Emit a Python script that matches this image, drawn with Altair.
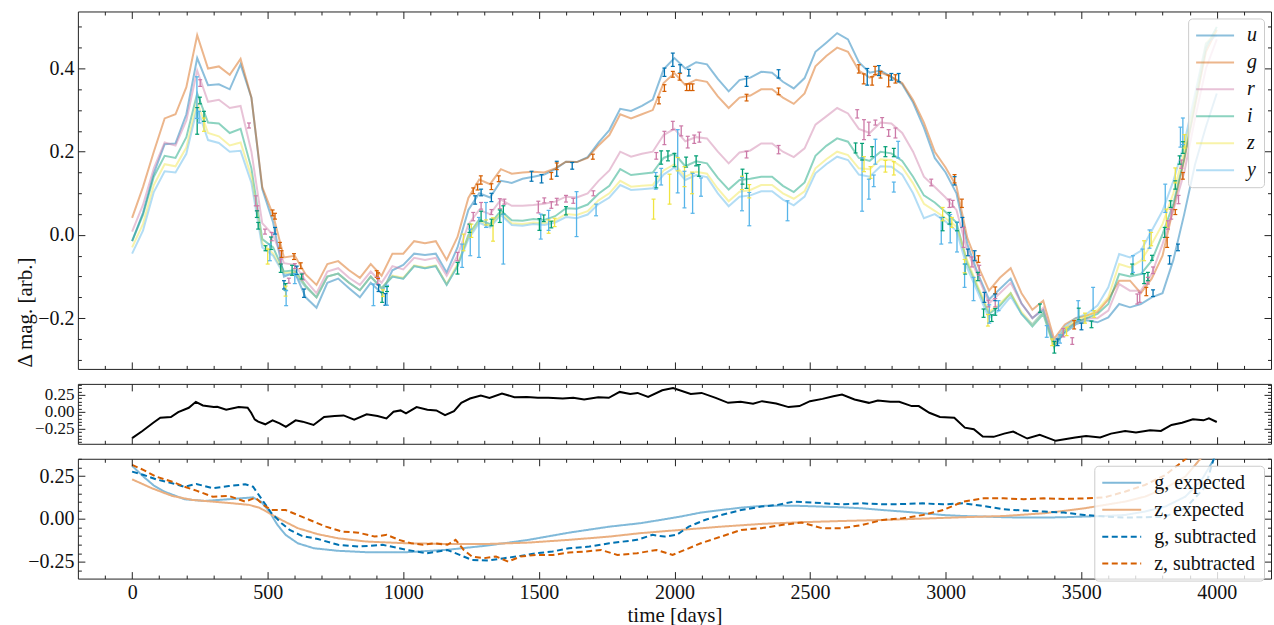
import altair as alt
import pandas as pd

FONT = "Liberation Serif"
TICK_COLOR = "#222222"

# ---------------- top panel: light curves per band (40-day grid) ----------------
BANDS = ["u", "g", "r", "i", "z", "y"]
BAND_COLORS = ["#0072B2", "#D55E00", "#CC79A7", "#009E73", "#F0E442", "#56B4E9"]

grid_t = list(range(0, 4001, 40))

band_u = [
    -0.015, 0.053, 0.148, 0.218, 0.220, 0.290, 0.425, 0.360, 0.362, 0.350,
    0.410, 0.330, 0.110, 0.030, -0.100, -0.090, -0.150, -0.175, -0.115, -0.105,
    -0.128, -0.150, -0.115, -0.140, -0.085, -0.072, -0.045, -0.048, -0.045, -0.090,
    -0.030, 0.060, 0.100, 0.090, 0.130, 0.125, 0.135, 0.140, 0.145, 0.158,
    0.176, 0.175, 0.187, 0.222, 0.252, 0.303, 0.298, 0.310, 0.325, 0.398,
    0.425, 0.400, 0.415, 0.410, 0.375, 0.345, 0.372, 0.378, 0.392, 0.390,
    0.368, 0.352, 0.377, 0.440, 0.462, 0.485, 0.470, 0.415, 0.390, 0.395,
    0.380, 0.362, 0.318, 0.258, 0.185, 0.150, 0.100, -0.022, -0.095, -0.155,
    -0.130, -0.105, -0.165, -0.200, -0.180, -0.265, -0.235, -0.215, -0.205, -0.210,
    -0.198, -0.166, -0.174, -0.166, -0.150, -0.140, -0.060, 0.050, 0.170, 0.260,
    0.340]
band_g = [
    0.041, 0.115, 0.200, 0.280, 0.290, 0.355, 0.480, 0.400, 0.405, 0.385,
    0.423, 0.330, 0.115, 0.048, -0.054, -0.050, -0.095, -0.120, -0.070, -0.063,
    -0.085, -0.103, -0.070, -0.098, -0.045, -0.045, -0.015, -0.020, -0.015, -0.060,
    -0.005, 0.089, 0.133, 0.122, 0.158, 0.147, 0.150, 0.152, 0.150, 0.160,
    0.176, 0.175, 0.185, 0.215, 0.240, 0.290, 0.280, 0.290, 0.300, 0.365,
    0.389, 0.360, 0.373, 0.368, 0.333, 0.305, 0.330, 0.335, 0.350, 0.350,
    0.330, 0.315, 0.340, 0.405, 0.430, 0.450, 0.440, 0.395, 0.378, 0.390,
    0.380, 0.365, 0.324, 0.270, 0.200, 0.162, 0.117, -0.007, -0.075, -0.134,
    -0.103, -0.080, -0.140, -0.180, -0.158, -0.250, -0.215, -0.200, -0.194, -0.185,
    -0.155, -0.110, -0.110, -0.140, -0.105, -0.050, 0.065, 0.180, 0.310, 0.440,
    0.493]
band_r = [
    0.008, 0.072, 0.160, 0.222, 0.215, 0.275, 0.395, 0.320, 0.325, 0.305,
    0.310, 0.200, 0.028, 0.000, -0.068, -0.072, -0.110, -0.140, -0.088, -0.080,
    -0.103, -0.120, -0.088, -0.115, -0.075, -0.083, -0.055, -0.060, -0.055, -0.098,
    -0.050, 0.025, 0.060, 0.050, 0.085, 0.070, 0.070, 0.072, 0.075, 0.080,
    0.092, 0.090, 0.100, 0.130, 0.155, 0.200, 0.188, 0.195, 0.200, 0.240,
    0.255, 0.225, 0.235, 0.232, 0.200, 0.172, 0.198, 0.203, 0.220, 0.220,
    0.200, 0.187, 0.208, 0.265, 0.285, 0.305, 0.292, 0.255, 0.245, 0.270,
    0.268, 0.245, 0.200, 0.140, 0.115, 0.090, 0.060, -0.038, -0.100, -0.165,
    -0.140, -0.115, -0.165, -0.200, -0.175, -0.260, -0.225, -0.210, -0.200, -0.200,
    -0.182, -0.118, -0.134, -0.134, -0.094, -0.022, 0.060, 0.150, 0.280, 0.400,
    0.470]
band_i = [
    -0.015, 0.048, 0.140, 0.190, 0.185, 0.235, 0.340, 0.270, 0.268, 0.245,
    0.255, 0.160, -0.010, -0.030, -0.088, -0.085, -0.122, -0.150, -0.100, -0.093,
    -0.115, -0.133, -0.100, -0.128, -0.100, -0.105, -0.075, -0.080, -0.075, -0.120,
    -0.075, 0.000, 0.037, 0.026, 0.058, 0.035, 0.034, 0.038, 0.036, 0.045,
    0.064, 0.063, 0.073, 0.099, 0.118, 0.158, 0.144, 0.147, 0.150, 0.185,
    0.195, 0.165, 0.177, 0.172, 0.137, 0.109, 0.132, 0.135, 0.140, 0.140,
    0.118, 0.103, 0.126, 0.190, 0.214, 0.232, 0.224, 0.185, 0.178, 0.200,
    0.196, 0.178, 0.140, 0.095, 0.078, 0.055, 0.030, -0.068, -0.130, -0.190,
    -0.170, -0.140, -0.190, -0.220, -0.190, -0.270, -0.230, -0.210, -0.200, -0.190,
    -0.166, -0.094, -0.100, -0.094, -0.062, 0.002, 0.075, 0.185, 0.320, 0.450,
    0.500]
band_z = [
    -0.030, 0.026, 0.120, 0.170, 0.165, 0.210, 0.320, 0.245, 0.237, 0.215,
    0.222, 0.140, -0.020, -0.045, -0.092, -0.090, -0.125, -0.150, -0.100, -0.093,
    -0.115, -0.133, -0.100, -0.128, -0.098, -0.103, -0.073, -0.078, -0.073, -0.118,
    -0.070, -0.005, 0.033, 0.022, 0.052, 0.028, 0.026, 0.030, 0.028, 0.035,
    0.050, 0.048, 0.057, 0.083, 0.100, 0.130, 0.116, 0.118, 0.120, 0.155,
    0.170, 0.140, 0.152, 0.147, 0.111, 0.081, 0.104, 0.108, 0.120, 0.120,
    0.100, 0.087, 0.105, 0.160, 0.182, 0.200, 0.192, 0.160, 0.158, 0.182,
    0.180, 0.163, 0.124, 0.075, 0.058, 0.040, 0.020, -0.062, -0.125, -0.185,
    -0.165, -0.140, -0.185, -0.215, -0.185, -0.265, -0.225, -0.205, -0.195, -0.180,
    -0.150, -0.070, -0.078, -0.062, -0.022, 0.026, 0.100, 0.200, 0.330, 0.460,
    0.490]
band_y = [
    -0.045, 0.010, 0.103, 0.153, 0.150, 0.195, 0.305, 0.228, 0.221, 0.200,
    0.202, 0.125, -0.030, -0.050, -0.095, -0.095, -0.125, -0.150, -0.100, -0.093,
    -0.115, -0.133, -0.100, -0.128, -0.100, -0.105, -0.075, -0.080, -0.075, -0.120,
    -0.075, -0.010, 0.029, 0.018, 0.048, 0.024, 0.022, 0.026, 0.024, 0.030,
    0.043, 0.040, 0.049, 0.074, 0.090, 0.120, 0.108, 0.110, 0.112, 0.145,
    0.162, 0.132, 0.144, 0.139, 0.100, 0.069, 0.092, 0.095, 0.105, 0.105,
    0.085, 0.071, 0.092, 0.148, 0.170, 0.188, 0.180, 0.145, 0.140, 0.165,
    0.164, 0.145, 0.100, 0.040, 0.050, 0.032, 0.010, -0.080, -0.140, -0.200,
    -0.180, -0.148, -0.190, -0.215, -0.185, -0.260, -0.220, -0.200, -0.190, -0.170,
    -0.126, -0.046, -0.054, -0.038, 0.010, 0.058, 0.130, 0.220, 0.340, 0.460,
    0.480]

# error bars: (time, value, half-error)
err_u = [(527, 0.010, 0.008), (560, -0.120, 0.010), (607, -0.085, 0.010), (634, -0.140, 0.010),
         (909, -0.128, 0.008), (934, -0.155, 0.014), (1265, 0.084, 0.010), (1287, 0.102, 0.008),
         (1325, 0.090, 0.010), (1473, 0.141, 0.012), (1510, 0.135, 0.010), (1566, 0.159, 0.018),
         (1623, 0.166, 0.008), (1963, 0.391, 0.010), (1994, 0.421, 0.016), (2021, 0.399, 0.010),
         (2053, 0.390, 0.008), (2266, 0.369, 0.012), (2384, 0.387, 0.010), (2711, 0.380, 0.020),
         (2754, 0.395, 0.012), (2800, 0.380, 0.008), (2827, 0.378, 0.010), (3033, 0.130, 0.010),
         (3062, 0.030, 0.012), (3082, -0.042, 0.008), (3107, -0.050, 0.012), (3143, -0.150, 0.012),
         (3183, -0.150, 0.008), (3413, -0.258, 0.008), (3501, -0.220, 0.008), (3765, -0.140, 0.008),
         (3826, -0.060, 0.010), (3857, -0.030, 0.008)]
err_g = [(518, 0.053, 0.007), (527, 0.045, 0.007), (545, -0.025, 0.007), (551, -0.046, 0.008),
         (597, -0.052, 0.007), (622, -0.074, 0.007), (902, -0.094, 0.008), (907, -0.098, 0.007),
         (1258, 0.106, 0.007), (1274, 0.115, 0.007), (1286, 0.132, 0.010), (1325, 0.116, 0.007),
         (1352, 0.135, 0.007), (1546, 0.142, 0.008), (1566, 0.165, 0.008), (1699, 0.188, 0.006),
         (1943, 0.323, 0.008), (1963, 0.353, 0.008), (1994, 0.386, 0.007), (2019, 0.380, 0.008),
         (2045, 0.355, 0.008), (2056, 0.355, 0.008), (2067, 0.355, 0.008), (2266, 0.330, 0.008),
         (2384, 0.345, 0.008), (2680, 0.399, 0.010), (2698, 0.375, 0.012), (2729, 0.370, 0.010),
         (2740, 0.395, 0.010), (2760, 0.385, 0.008), (2790, 0.370, 0.014), (2815, 0.375, 0.010),
         (3033, 0.135, 0.010), (3060, 0.076, 0.010), (3121, -0.058, 0.008), (3183, -0.133, 0.008),
         (3474, -0.216, 0.010), (3740, -0.136, 0.010), (3817, -0.018, 0.012), (3847, 0.055, 0.006),
         (3875, 0.142, 0.008)]
err_r = [(251, 0.365, 0.008), (431, 0.263, 0.006), (456, 0.082, 0.012), (462, 0.064, 0.006),
         (490, 0.008, 0.006), (515, -0.004, 0.010), (548, -0.064, 0.006), (578, -0.110, 0.006),
         (600, -0.075, 0.006), (630, -0.100, 0.008), (906, -0.110, 0.008), (1200, -0.052, 0.010),
         (1258, 0.044, 0.010), (1287, 0.070, 0.008), (1325, 0.055, 0.006), (1356, 0.075, 0.012),
         (1373, 0.080, 0.006), (1498, 0.067, 0.014), (1520, 0.083, 0.006), (1546, 0.072, 0.008),
         (1566, 0.080, 0.008), (1600, 0.087, 0.008), (1627, 0.082, 0.006), (1701, 0.100, 0.006),
         (1933, 0.190, 0.008), (1963, 0.233, 0.016), (1994, 0.263, 0.010), (2025, 0.250, 0.012),
         (2049, 0.223, 0.014), (2073, 0.230, 0.010), (2092, 0.235, 0.012), (2266, 0.193, 0.008),
         (2384, 0.205, 0.010), (2674, 0.291, 0.010), (2699, 0.253, 0.024), (2717, 0.255, 0.016),
         (2741, 0.270, 0.006), (2766, 0.270, 0.012), (2790, 0.245, 0.008), (2815, 0.245, 0.012),
         (2947, 0.126, 0.008), (3014, 0.076, 0.010), (3026, 0.075, 0.008), (3066, -0.006, 0.024),
         (3097, -0.065, 0.012), (3124, -0.085, 0.012), (3158, -0.165, 0.008), (3183, -0.163, 0.010),
         (3434, -0.235, 0.010), (3467, -0.255, 0.008), (3707, -0.154, 0.012), (3716, -0.150, 0.012),
         (3746, -0.110, 0.008), (3765, -0.085, 0.008), (3820, 0.024, 0.010), (3832, 0.050, 0.012),
         (3859, 0.085, 0.010), (3869, 0.170, 0.010)]
err_i = [(240, 0.274, 0.032), (250, 0.323, 0.008), (265, 0.285, 0.012), (460, 0.050, 0.008),
         (465, 0.022, 0.008), (492, -0.032, 0.006), (512, -0.020, 0.015), (548, -0.080, 0.010),
         (566, -0.125, 0.008), (590, -0.085, 0.012), (625, -0.100, 0.006), (922, -0.150, 0.012),
         (940, -0.130, 0.006), (1200, -0.080, 0.014), (1244, 0.016, 0.010), (1287, 0.045, 0.012),
         (1325, 0.030, 0.008), (1356, 0.045, 0.015), (1369, 0.060, 0.010), (1502, 0.025, 0.014),
         (1518, 0.040, 0.008), (1546, 0.025, 0.008), (1600, 0.058, 0.010), (1933, 0.127, 0.014),
         (1951, 0.186, 0.016), (1976, 0.190, 0.012), (2000, 0.180, 0.016), (2043, 0.175, 0.012),
         (2080, 0.178, 0.012), (2090, 0.155, 0.014), (2251, 0.140, 0.018), (2266, 0.130, 0.018),
         (2668, 0.209, 0.012), (2692, 0.200, 0.020), (2729, 0.200, 0.012), (2778, 0.200, 0.012),
         (2809, 0.198, 0.010), (2989, 0.026, 0.016), (3014, 0.040, 0.014), (3042, 0.020, 0.010),
         (3072, -0.082, 0.012), (3119, -0.100, 0.010), (3140, -0.188, 0.010), (3170, -0.200, 0.008),
         (3183, -0.185, 0.008), (3348, -0.176, 0.010), (3401, -0.270, 0.014), (3491, -0.190, 0.014),
         (3538, -0.215, 0.008), (3688, -0.082, 0.012), (3732, -0.105, 0.012), (3746, -0.100, 0.010),
         (3761, -0.055, 0.006), (3808, 0.006, 0.012), (3830, 0.074, 0.008), (3847, 0.120, 0.010),
         (3863, 0.180, 0.010), (3875, 0.210, 0.014)]
err_z = [(265, 0.265, 0.016), (500, -0.052, 0.018), (566, -0.135, 0.012), (925, -0.140, 0.008),
         (1222, -0.018, 0.020), (1251, 0.010, 0.016), (1305, 0.030, 0.006), (1331, 0.013, 0.028),
         (1536, 0.020, 0.016), (1558, 0.030, 0.010), (1923, 0.062, 0.024), (1982, 0.110, 0.036),
         (2012, 0.170, 0.016), (2037, 0.140, 0.024), (2065, 0.125, 0.026), (2249, 0.125, 0.016),
         (2276, 0.105, 0.016), (2699, 0.170, 0.018), (2723, 0.150, 0.014), (2778, 0.165, 0.014),
         (2809, 0.160, 0.016), (2989, 0.050, 0.016), (3023, 0.030, 0.012), (3070, -0.075, 0.016),
         (3156, -0.205, 0.014), (3393, -0.258, 0.008), (3446, -0.232, 0.010), (3514, -0.200, 0.012),
         (3548, -0.190, 0.008), (3732, -0.038, 0.024), (3758, -0.010, 0.016), (3814, 0.040, 0.022),
         (3847, 0.143, 0.018), (3881, 0.225, 0.016)]
err_y = [(239, 0.330, 0.050), (247, 0.283, 0.014), (508, -0.042, 0.020), (568, -0.152, 0.018),
         (600, -0.105, 0.012), (890, -0.144, 0.026), (940, -0.145, 0.024), (1217, -0.050, 0.028),
         (1247, -0.018, 0.032), (1279, -0.006, 0.048), (1305, 0.048, 0.030), (1369, -0.010, 0.060),
         (1507, 0.020, 0.030), (1536, 0.035, 0.024), (1639, 0.050, 0.054), (1711, 0.060, 0.014),
         (1931, 0.130, 0.020), (1951, 0.140, 0.020), (2012, 0.177, 0.076), (2037, 0.109, 0.044),
         (2067, 0.100, 0.048), (2098, 0.115, 0.022), (2249, 0.098, 0.040), (2276, 0.062, 0.040),
         (2417, 0.058, 0.024), (2692, 0.121, 0.064), (2717, 0.110, 0.024), (2735, 0.130, 0.014),
         (2741, 0.200, 0.030), (2809, 0.115, 0.012), (2825, 0.205, 0.020), (2984, 0.010, 0.032),
         (3017, 0.015, 0.034), (3042, -0.005, 0.036), (3070, -0.098, 0.028), (3103, -0.130, 0.028),
         (3161, -0.190, 0.022), (3195, -0.170, 0.012), (3373, -0.232, 0.014), (3422, -0.250, 0.010),
         (3489, -0.182, 0.024), (3544, -0.154, 0.028), (3691, -0.070, 0.020), (3726, -0.064, 0.030),
         (3752, -0.010, 0.022), (3810, 0.088, 0.034), (3866, 0.235, 0.024), (3875, 0.249, 0.032)]

# ---------------- middle panel ----------------
mid_t = [0, 38, 78, 104, 143, 170, 209, 235, 261, 301,
         314, 347, 393, 426, 439, 452, 465, 491, 518, 544,
         567, 603, 629, 669, 708, 747, 780, 819, 865, 905,
         938, 964, 990, 1010, 1049, 1089, 1122, 1154, 1187, 1214,
         1246, 1286, 1318, 1364, 1410, 1456, 1496, 1535, 1588, 1627,
         1667, 1719, 1758, 1798, 1837, 1864, 1903, 1955, 1995, 2060,
         2100, 2152, 2198, 2244, 2290, 2323, 2375, 2421, 2461, 2500,
         2546, 2586, 2618, 2664, 2717, 2750, 2796, 2829, 2875, 2901,
         2940, 2979, 3032, 3071, 3104, 3137, 3177, 3216, 3249, 3301,
         3347, 3406, 3439, 3478, 3518, 3570, 3610, 3662, 3702, 3754,
         3794, 3833, 3872, 3912, 3951, 3971, 4000]
mid_v = [-0.390, -0.285, -0.162, -0.088, -0.078, -0.005, 0.059, 0.147, 0.093, 0.069,
         0.074, 0.029, 0.069, 0.059, -0.015, -0.113, -0.147, -0.186, -0.127, -0.172,
         -0.225, -0.127, -0.147, -0.196, -0.078, -0.064, -0.054, -0.118, -0.039, -0.064,
         -0.098, 0.000, 0.020, -0.025, 0.069, 0.029, 0.020, -0.049, 0.010, 0.132,
         0.196, 0.240, 0.206, 0.270, 0.216, 0.220, 0.206, 0.206, 0.196, 0.206,
         0.181, 0.216, 0.206, 0.294, 0.265, 0.279, 0.220, 0.319, 0.350, 0.265,
         0.279, 0.206, 0.132, 0.147, 0.118, 0.157, 0.122, 0.069, 0.084, 0.157,
         0.191, 0.230, 0.255, 0.181, 0.132, 0.167, 0.147, 0.147, 0.084, 0.084,
         -0.015, -0.078, -0.088, -0.235, -0.260, -0.368, -0.372, -0.324, -0.294, -0.397,
         -0.343, -0.431, -0.407, -0.382, -0.358, -0.382, -0.324, -0.284, -0.309, -0.275,
         -0.284, -0.196, -0.162, -0.113, -0.127, -0.098, -0.152]

# ---------------- bottom panel ----------------
gexp_t = [0, 43, 80, 118, 193, 267, 357, 446, 476, 506, 536, 566, 611, 670, 760, 864, 1014,
          1163, 1312, 1462, 1611, 1760, 1874, 1948, 2023, 2097, 2172, 2246, 2321, 2395, 2470,
          2544, 2618, 2693, 2767, 2842, 2916, 2991, 3065, 3140, 3214, 3288, 3363, 3437, 3512,
          3586, 3661, 3735, 3810, 3884, 3944, 3988, 4000]
gexp_v = [0.310, 0.245, 0.195, 0.160, 0.115, 0.105, 0.115, 0.126, 0.100, 0.043, -0.035, -0.093,
          -0.142, -0.171, -0.186, -0.194, -0.194, -0.180, -0.155, -0.122, -0.080, -0.045, -0.025,
          -0.006, 0.014, 0.037, 0.052, 0.066, 0.076, 0.078, 0.076, 0.072, 0.068, 0.062, 0.052,
          0.043, 0.033, 0.023, 0.017, 0.014, 0.010, 0.008, 0.008, 0.010, 0.014, 0.017, 0.023,
          0.043, 0.072, 0.130, 0.227, 0.344, 0.375]
zexp_t = [0, 73, 148, 222, 297, 372, 431, 469, 506, 551, 611, 685, 760, 864, 1014, 1163, 1312,
          1462, 1611, 1760, 1874, 2023, 2172, 2321, 2470, 2618, 2767, 2916, 3065, 3214, 3363,
          3512, 3661, 3735, 3810, 3884, 3936, 4000]
zexp_v = [0.231, 0.179, 0.134, 0.111, 0.101, 0.091, 0.082, 0.066, 0.033, -0.006, -0.054, -0.089,
          -0.113, -0.132, -0.142, -0.146, -0.146, -0.138, -0.122, -0.103, -0.083, -0.064, -0.045,
          -0.029, -0.019, -0.012, -0.006, 0.002, 0.010, 0.017, 0.033, 0.062, 0.101, 0.130, 0.179,
          0.247, 0.344, 0.450]
gsub_t = [0, 43, 88, 148, 193, 237, 297, 357, 417, 446, 476, 514, 551, 581, 626, 685, 760, 835,
          924, 1014, 1088, 1163, 1208, 1253, 1312, 1372, 1432, 1492, 1551, 1611, 1686, 1760, 1862,
          1919, 1963, 2008, 2053, 2112, 2172, 2246, 2321, 2380, 2440, 2514, 2618, 2693, 2767, 2842,
          2916, 2991, 3065, 3140, 3214, 3288, 3363, 3437, 3512, 3586, 3661, 3735, 3810, 3884, 3958,
          3988, 4000]
gsub_v = [0.276, 0.256, 0.231, 0.208, 0.188, 0.204, 0.179, 0.192, 0.202, 0.188, 0.120, 0.033,
          -0.025, -0.064, -0.099, -0.117, -0.151, -0.161, -0.151, -0.181, -0.200, -0.181, -0.210,
          -0.239, -0.243, -0.229, -0.216, -0.200, -0.190, -0.171, -0.161, -0.142, -0.122, -0.093,
          -0.103, -0.093, -0.045, -0.006, 0.023, 0.052, 0.072, 0.082, 0.101, 0.095, 0.085, 0.091,
          0.085, 0.087, 0.091, 0.085, 0.091, 0.076, 0.056, 0.049, 0.043, 0.037, 0.023, 0.014,
          0.008, 0.010, 0.014, 0.062, 0.188, 0.348, 0.400]
zsub_t = [0, 43, 88, 148, 193, 237, 297, 357, 417, 454, 484, 514, 566, 611, 655, 715, 775, 835,
          894, 939, 984, 1029, 1073, 1118, 1163, 1193, 1223, 1253, 1297, 1342, 1387, 1432, 1492,
          1551, 1611, 1671, 1730, 1790, 1862, 1934, 1993, 2038, 2097, 2172, 2246, 2321, 2395, 2470,
          2544, 2618, 2693, 2767, 2842, 2916, 2991, 3065, 3140, 3214, 3288, 3363, 3437, 3512, 3586,
          3661, 3735, 3810, 3884, 4000]
zsub_v = [0.315, 0.285, 0.247, 0.217, 0.188, 0.165, 0.130, 0.134, 0.101, 0.124, 0.082, 0.052,
          0.052, 0.023, -0.006, -0.045, -0.074, -0.080, -0.103, -0.093, -0.122, -0.142, -0.151,
          -0.142, -0.151, -0.122, -0.181, -0.219, -0.229, -0.219, -0.249, -0.219, -0.210, -0.210,
          -0.196, -0.190, -0.181, -0.210, -0.200, -0.181, -0.210, -0.181, -0.142, -0.103, -0.064,
          -0.054, -0.035, -0.021, -0.054, -0.054, -0.035, -0.006, 0.004, 0.023, 0.052, 0.101,
          0.120, 0.120, 0.115, 0.120, 0.117, 0.120, 0.126, 0.159, 0.198, 0.256, 0.348, 0.500]

BOT_NAMES = ["g, expected", "z, expected", "g, subtracted", "z, subtracted"]
BOT_COLORS = ["#80B9D9", "#EAAF80", "#0072B2", "#D55E00"]
BOT_DASH = [[1, 0], [1, 0], [6, 3.5], [6, 3.5]]

# ---------------- layout / scales ----------------
W = 1195
X_DOM = [-200, 4200]
X_MAJOR = list(range(0, 4001, 500))
X_MINOR = [v for v in range(-100, 4200, 100) if v % 500 != 0]
MAJ = 7
MINL = 3.5


def ticks(lo, hi, step, skip):
    n = int(round((hi - lo) / step))
    out = []
    for k in range(n + 1):
        v = round(lo + k * step, 4)
        if all(abs(v - s) > 1e-6 for s in skip):
            out.append(v)
    return out


TOP_Y = [-0.322, 0.537]
TOP_MAJ = [-0.2, 0.0, 0.2, 0.4]
TOP_MIN = ticks(-0.30, 0.50, 0.05, TOP_MAJ)
MID_Y = [-0.475, 0.413]
MID_MAJ = [-0.25, 0.0, 0.25]
MID_MIN = ticks(-0.45, 0.40, 0.05, MID_MAJ)
BOT_Y = [-0.348, 0.351]
BOT_MAJ = [-0.25, 0.0, 0.25]
BOT_MIN = ticks(-0.30, 0.35, 0.05, BOT_MAJ)

xs = alt.Scale(domain=X_DOM, nice=False, zero=False)


def make_axis(orient, values, size, labels=False, fmt=None, title=None, **kw):
    d = dict(orient=orient, values=values, offset=-size, tickSize=size, labels=labels,
             domain=False, grid=False, ticks=True, tickColor=TICK_COLOR, tickWidth=1,
             title=title, labelOverlap=False, labelFlush=False, zindex=1)
    if fmt:
        d["format"] = fmt
    d.update(kw)
    return alt.Axis(**d)


def axis_layers(ydom, ymaj, ymin, yfmt, xlabels=False, xtitle=None, ytitle=None,
                ytitle_kw=None, ylabel_size=20):
    pt = pd.DataFrame({"t": [X_DOM[0]], "v": [ydom[0]]})
    ys = alt.Scale(domain=ydom, nice=False, zero=False)
    ykw = dict(labelPadding=4, titlePadding=3, labelFontSize=ylabel_size)
    if ytitle_kw:
        ykw.update(ytitle_kw)
    pairs = [
        (make_axis("bottom", X_MAJOR, MAJ, labels=xlabels, fmt="d", title=xtitle,
                   labelPadding=4, titlePadding=2),
         make_axis("left", ymaj, MAJ, labels=True, fmt=yfmt, title=ytitle, **ykw)),
        (make_axis("bottom", X_MINOR, MINL), make_axis("left", ymin, MINL)),
        (make_axis("top", X_MAJOR, MAJ), make_axis("right", ymaj, MAJ)),
        (make_axis("top", X_MINOR, MINL), make_axis("right", ymin, MINL)),
    ]
    out = []
    for xa, ya in pairs:
        out.append(alt.Chart(pt).mark_point(opacity=0, size=1).encode(
            x=alt.X("t:Q", scale=xs, axis=xa),
            y=alt.Y("v:Q", scale=ys, axis=ya)))
    return out


# ---------------- top panel ----------------
band_vals = dict(zip(BANDS, [band_u, band_g, band_r, band_i, band_z, band_y]))
rows = []
for b in BANDS:
    for t, v in zip(grid_t, band_vals[b]):
        rows.append({"band": b, "t": t, "v": v})
lines_df = pd.DataFrame(rows)

err_lists = dict(zip(BANDS, [err_u, err_g, err_r, err_i, err_z, err_y]))
erows = []
for b, col in zip(BANDS, BAND_COLORS):
    for t, v, e in err_lists[b]:
        erows.append({"band": b, "t": t, "lo": v - e, "hi": v + e, "col": col})
err_df = pd.DataFrame(erows)

ys_top = alt.Scale(domain=TOP_Y, nice=False, zero=False)

top_legend = alt.Legend(title=None, orient="top-right", offset=7, fillColor="rgba(255,255,255,0.8)",
                        strokeColor="#cccccc", cornerRadius=4, padding=7, rowPadding=7,
                        symbolType="stroke", symbolSize=1444, symbolStrokeWidth=2,
                        symbolOpacity=0.45, clipHeight=20, labelFont=FONT, labelFontSize=20,
                        labelFontStyle="italic", labelOffset=12, labelColor="#111111", zindex=2)

top_lines = alt.Chart(lines_df).mark_line(strokeWidth=2, opacity=0.45, clip=True).encode(
    x=alt.X("t:Q", scale=xs, axis=None),
    y=alt.Y("v:Q", scale=ys_top, axis=None),
    color=alt.Color("band:N", scale=alt.Scale(domain=BANDS, range=BAND_COLORS), legend=top_legend),
)
err_bar = alt.Chart(err_df).mark_rule(strokeWidth=1.3).encode(
    x=alt.X("t:Q", scale=xs, axis=None),
    y=alt.Y("lo:Q", scale=ys_top, axis=None),
    y2=alt.Y2("hi:Q"),
    stroke=alt.Stroke("col:N", scale=None),
)
cap_lo = alt.Chart(err_df).mark_rule(strokeWidth=1.2, xOffset=-2, x2Offset=2).encode(
    x=alt.X("t:Q", scale=xs, axis=None), x2=alt.X2("t:Q"),
    y=alt.Y("lo:Q", scale=ys_top, axis=None),
    stroke=alt.Stroke("col:N", scale=None),
)
cap_hi = alt.Chart(err_df).mark_rule(strokeWidth=1.2, xOffset=-2, x2Offset=2).encode(
    x=alt.X("t:Q", scale=xs, axis=None), x2=alt.X2("t:Q"),
    y=alt.Y("hi:Q", scale=ys_top, axis=None),
    stroke=alt.Stroke("col:N", scale=None),
)

top = alt.layer(
    top_lines, err_bar, cap_lo, cap_hi,
    *axis_layers(TOP_Y, TOP_MAJ, TOP_MIN, ".1f", ytitle="Δ mag. [arb.]",
                 ytitle_kw={"titleY": 301, "titlePadding": 2}),
).resolve_axis(x="independent", y="independent").properties(width=W, height=358)

# ---------------- middle panel ----------------
mid_df = pd.DataFrame({"t": mid_t, "v": mid_v})
ys_mid = alt.Scale(domain=MID_Y, nice=False, zero=False)
mid_line = alt.Chart(mid_df).mark_line(color="black", strokeWidth=2, clip=True).encode(
    x=alt.X("t:Q", scale=xs, axis=None),
    y=alt.Y("v:Q", scale=ys_mid, axis=None),
)
mid = alt.layer(
    mid_line, *axis_layers(MID_Y, MID_MAJ, MID_MIN, ".2f", ylabel_size=17),
).resolve_axis(x="independent", y="independent").properties(width=W, height=60)

# ---------------- bottom panel ----------------
brows = []
for name, tt, vv in zip(BOT_NAMES, [gexp_t, zexp_t, gsub_t, zsub_t], [gexp_v, zexp_v, gsub_v, zsub_v]):
    for t, v in zip(tt, vv):
        brows.append({"name": name, "t": t, "v": v})
bot_df = pd.DataFrame(brows)
ys_bot = alt.Scale(domain=BOT_Y, nice=False, zero=False)

bot_legend = alt.Legend(title=None, orient="top-right", offset=7, fillColor="rgba(255,255,255,0.8)",
                        strokeColor="#cccccc", cornerRadius=4, padding=7, rowPadding=7,
                        symbolType="stroke", symbolSize=1521, symbolStrokeWidth=2,
                        clipHeight=20, labelFont=FONT, labelFontSize=20, labelOffset=12,
                        labelColor="#111111", zindex=2)

bot_lines = alt.Chart(bot_df).mark_line(strokeWidth=2, clip=True).encode(
    x=alt.X("t:Q", scale=xs, axis=None),
    y=alt.Y("v:Q", scale=ys_bot, axis=None),
    color=alt.Color("name:N", scale=alt.Scale(domain=BOT_NAMES, range=BOT_COLORS), legend=bot_legend),
    strokeDash=alt.StrokeDash("name:N", scale=alt.Scale(domain=BOT_NAMES, range=BOT_DASH),
                              legend=bot_legend),
)
bot = alt.layer(
    bot_lines, *axis_layers(BOT_Y, BOT_MAJ, BOT_MIN, ".2f", xlabels=True, xtitle="time [days]"),
).resolve_axis(x="independent", y="independent").properties(width=W, height=120)

chart = alt.vconcat(top, mid, bot, spacing=13).resolve_scale(
    color="independent", strokeDash="independent"
).resolve_legend(color="independent", strokeDash="independent").properties(
    padding={"left": 14, "top": 10, "right": 2, "bottom": 2},
    background="white",
).configure_view(stroke="#222222", strokeWidth=1).configure_axis(
    labelFont=FONT, titleFont=FONT, labelFontSize=20, titleFontSize=21,
    titleFontWeight="normal", labelColor="#111111", titleColor="#111111",
)

chart.save("out.html", embed_options={"renderer": "svg", "actions": False})
